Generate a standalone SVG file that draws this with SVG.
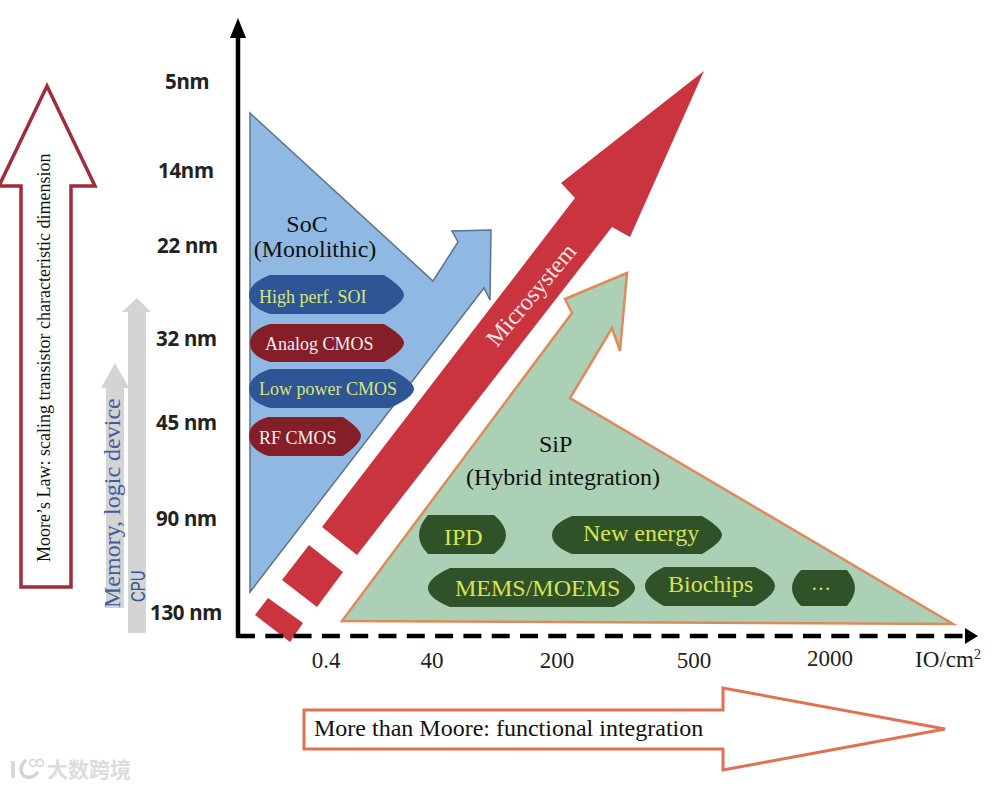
<svg xmlns="http://www.w3.org/2000/svg" width="996" height="788" viewBox="0 0 996 788">
<style>
.s{font-family:"Liberation Serif",serif}
.y{font-family:"Noto Sans",sans-serif;font-weight:700;font-size:20.5px;fill:#222;letter-spacing:-0.3px}
.x{font-family:"Liberation Serif",serif;font-size:23px;fill:#222;text-anchor:middle}
.b{fill:#2f5597}.r{fill:#841f27}.g{fill:#2f5228}
.ly{fill:#dbe57a}.lw{fill:#f5eeee}.lg{fill:#d9e255}
.red{fill:#c9343f}
</style>
<rect width="996" height="788" fill="#fff"/>
<g id="moore-arrow">
<polygon points="47,86 95,186 71,186 71,587 21,587 21,186 -1,186" fill="#fff" stroke="#a02c3c" stroke-width="3.5"/>
<text class="s" font-size="18" fill="#111" transform="translate(50,562) rotate(-90)">Moore’s Law: scaling transistor characteristic dimension</text>
</g>
<g id="cpu-arrow">
<polygon points="137,298 151,312 146,312 146,633 128,633 128,312 122,312" fill="#d4d4d4"/>
<text font-family="Liberation Sans,sans-serif" font-size="20" fill="#2f5597" transform="translate(145,602) rotate(-90) scale(0.75,1)">CPU</text>
</g>
<g id="memory-arrow">
<polygon points="115,363 129,388 124,388 124,608 106,608 106,388 101,388" fill="#d4d4d4"/>
<text class="s" font-size="24" fill="#3f5c9c" transform="translate(120,608) rotate(-90)">Memory, logic device</text>
</g>
<g id="soc">
<polygon points="250,113 433,281 458,242 452,231 491,230 490,300 484,288 250,592" fill="#8fb8e2" stroke="#5c7488" stroke-width="1.5"/>
<text class="s" font-size="24" fill="#111" text-anchor="middle" x="307" y="232">SoC</text>
<text class="s" font-size="24" fill="#111" text-anchor="middle" x="315" y="257">(Monolithic)</text>
</g>
<g id="soi">
<path class="b" d="M270,275H384Q404,288 404,295T384,314H270Q249,307 249,295T270,275Z"/>
<text class="s ly" font-size="18" x="259" y="303">High perf. SOI</text>
</g>
<g id="analog">
<path class="r" d="M270,324H384Q404,336 404,343T384,362H270Q250,356 250,343T270,324Z"/>
<text class="s lw" font-size="18" x="265" y="350">Analog CMOS</text>
</g>
<g id="lowpower">
<path class="b" d="M270,369H390Q414,381 414,389T390,408H270Q249,402 249,389T270,369Z"/>
<text class="s ly" font-size="18" x="259" y="395">Low power CMOS</text>
</g>
<g id="rf">
<path class="r" d="M268,417H343Q361,429 361,436T343,456H268Q249,449 249,436T268,417Z"/>
<text class="s lw" font-size="18" x="259" y="444">RF CMOS</text>
</g>
<g id="microsystem">
<polygon class="red" points="704,71 561,183 575,198 322,527 357,555 612,227 630,237"/>
<polygon class="red" points="309,545 343,572 317,607 282,580"/>
<polygon class="red" points="268,598 303,623 290,642 255,615"/>
<text class="s" font-size="24" fill="#f6e6e6" transform="translate(497,348) rotate(-50)">Microsystem</text>
</g>
<g id="sip">
<polygon points="627,273 565,299 572,313 342,621 953,624 570,398 612,328 620,351" fill="#abd0b6" stroke="#df8a5a" stroke-width="2.5"/>
<text class="s" font-size="24" fill="#111" x="539" y="452">SiP</text>
<text class="s" font-size="24" fill="#111" x="466" y="485">(Hybrid integration)</text>
</g>
<g id="ipd">
<path class="g" d="M428,515H494Q506,525 506,535T494,554H428Q419,545 419,535T428,515Z"/>
<text class="s lg" font-size="24" x="444" y="545">IPD</text>
</g>
<g id="newenergy">
<path class="g" d="M572,516H702Q722,528 722,535T702,554H572Q552,546 552,535T572,516Z"/>
<text class="s lg" font-size="24" x="583" y="541">New energy</text>
</g>
<g id="mems">
<path class="g" d="M450,568H614Q635,580 635,588T614,607H450Q428,598 428,588T450,568Z"/>
<text class="s lg" font-size="24" x="455" y="596">MEMS/MOEMS</text>
</g>
<g id="biochips">
<path class="g" d="M664,567H755Q775,577 775,586T755,606H664Q645,596 645,586T664,567Z"/>
<text class="s lg" font-size="24" x="668" y="592">Biochips</text>
</g>
<g id="more">
<path class="g" d="M801,570H847Q855,580 855,588T847,606H801Q792,597 792,588T801,570Z"/>
<text class="s lg" font-size="20" x="811" y="590">…</text>
</g>
<g id="connectors">
<line x1="238" y1="638" x2="238" y2="36" stroke="#000" stroke-width="4.5"/>
<polygon points="238,18 246,38 230,38"/>
<line x1="237" y1="636" x2="966" y2="636" stroke="#000" stroke-width="4.5" stroke-dasharray="18 10.3"/>
<polygon points="978,636 965,628 965,644"/>
</g>
<g id="y-labels">
<text class="y" x="165" y="89">5nm</text>
<text class="y" x="158" y="178">14nm</text>
<text class="y" x="157" y="253">22 nm</text>
<text class="y" x="156" y="346">32 nm</text>
<text class="y" x="156" y="430">45 nm</text>
<text class="y" x="156" y="526">90 nm</text>
<text class="y" x="150" y="620">130 nm</text>
</g>
<g id="x-labels">
<text class="x" x="326" y="668">0.4</text>
<text class="x" x="432" y="668">40</text>
<text class="x" x="557" y="668">200</text>
<text class="x" x="694" y="668">500</text>
<text class="x" x="830" y="666">2000</text>
<text class="x" x="948" y="667">IO/cm<tspan font-size="14" dy="-8">2</tspan></text>
</g>
<g id="functional-arrow">
<polygon points="304,710 723,710 723,688 945,729 723,770 723,749 304,749" fill="#fff" stroke="#dd7350" stroke-width="3"/>
<text class="s" font-size="24" fill="#111" x="314" y="736">More than Moore: functional integration</text>
</g>
<g id="watermark">
<path d="M13,761V778M26,760Q17,768 24,776Q32,780 38,772" fill="none" stroke="#d4d4d4" stroke-width="3.5"/>
<circle cx="33" cy="763" r="3.5" fill="none" stroke="#d4d4d4" stroke-width="1.5"/>
<circle cx="40" cy="763" r="3.5" fill="none" stroke="#d4d4d4" stroke-width="1.5"/>
<text font-family="Noto Sans CJK SC,sans-serif" font-size="21" font-weight="700" fill="#dcdcdc" x="47" y="777">大数跨境</text>
</g>
</svg>
